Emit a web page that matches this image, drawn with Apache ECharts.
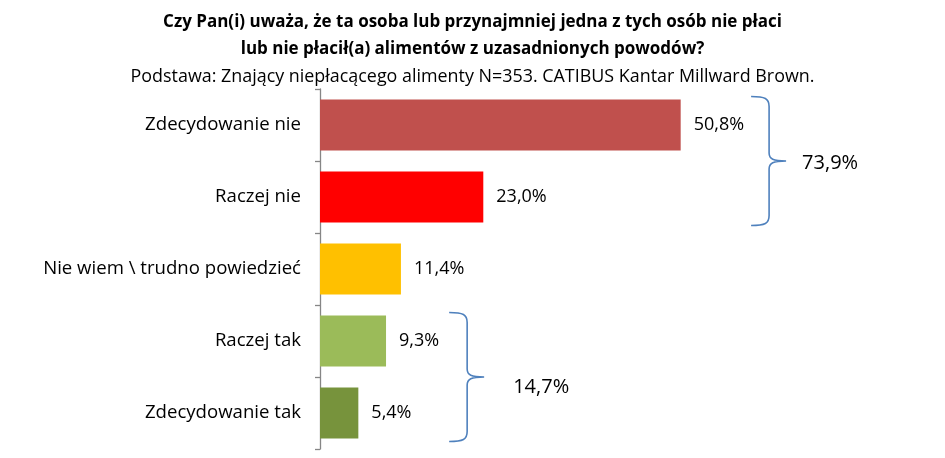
<!DOCTYPE html>
<html><head><meta charset="utf-8">
<script src="https://cdn.jsdelivr.net/npm/echarts@6/dist/echarts.min.js"></script>
<style>html,body{margin:0;padding:0;background:#fff}#c{width:945px;height:458px}</style>
</head><body><div id="c"></div>
<script>
// ---- data ----
const categories = ['Zdecydowanie nie', 'Raczej nie', 'Nie wiem \\ trudno powiedzieć', 'Raczej tak', 'Zdecydowanie tak'];
const values = [50.8, 23.0, 11.4, 9.3, 5.4];
const groupStart = [0, 3];
const groupEnd = [1, 4];
const groupLabels = ['73,9%', '14,7%'];
const titleLines = ['Czy Pan(i) uważa, że ta osoba lub przynajmniej jedna z tych osób nie płaci', 'lub nie płacił(a) alimentów z uzasadnionych powodów?'];
const subtitle = 'Podstawa: Znający niepłacącego alimenty N=353. CATIBUS Kantar Millward Brown.';

// ---- styles ----
const barColors = ['#C0504D', '#FF0000', '#FFC000', '#9BBB59', '#77933C'];
const FONT = '"Open Sans", "DejaVu Sans", sans-serif';
const LABEL_SIZE = 18;
const LABEL_DIST = 13;
const GAP = 0.29;
const braceShift = [0, 3];          // extra px offset of each brace
const braceLabelShift = [[0, 0], [13, 8]]; // extra px offset of each brace label

const fmt = v => v.toFixed(1).replace('.', ',') + '%';
const mctx = document.createElement('canvas').getContext('2d');
function measure(t, size) { mctx.font = size + 'px "Open Sans"'; return mctx.measureText(t).width; }

const chart = echarts.init(document.getElementById('c'));
chart.setOption({
  animation: false,
  backgroundColor: '#fff',
  title: {
    left: 'center', top: 4, itemGap: 0,
    text: titleLines.join('\n'),
    textStyle: { fontFamily: FONT, fontWeight: 'bold', fontSize: 17, lineHeight: 27, color: '#000' },
    subtext: subtitle,
    subtextStyle: { fontFamily: FONT, fontSize: 17.9, lineHeight: 27, color: '#000' }
  },
  grid: { left: 320, top: 89, bottom: 9, right: 57 },
  xAxis: { type: 'value', min: 0, max: 80, show: false },
  yAxis: {
    type: 'category', data: categories, inverse: true,
    axisLine: { show: true, lineStyle: { color: '#868686', width: 1.3 } },
    axisTick: { show: true, length: 5, lineStyle: { color: '#868686', width: 1.3 } },
    axisLabel: { fontFamily: FONT, fontSize: 18.6, color: '#000', margin: 19 }
  },
  series: [{
    type: 'bar',
    barCategoryGap: (GAP * 100) + '%',
    data: values.map((v, i) => ({ value: v, itemStyle: { color: barColors[i] } })),
    label: {
      show: true, position: 'right', distance: LABEL_DIST,
      fontFamily: FONT, fontSize: LABEL_SIZE, color: '#000',
      formatter: p => fmt(p.value)
    }
  }, {
    type: 'custom',
    clip: false,
    silent: true,
    encode: { y: 0 },
    data: groupStart.map((s, i) => [s, groupEnd[i]]),
    renderItem(params, api) {
      const gi = params.dataIndex;
      const s = api.value(0), e = api.value(1);
      const band = api.size([0, 1])[1];
      const half = band * (1 - GAP) / 2;
      const top = api.coord([0, s])[1] - half - 3;
      const bot = api.coord([0, e])[1] + half + 3;
      let maxEnd = 0;
      for (let i = s; i <= e; i++) {
        const end = api.coord([values[i], i])[0] + LABEL_DIST + measure(fmt(values[i]), LABEL_SIZE);
        if (end > maxEnd) maxEnd = end;
      }
      const x0 = maxEnd + 7 + braceShift[gi], x1 = x0 + 18, x2 = x0 + 35;
      const mid = (top + bot) / 2;
      const d = `M${x0} ${top} C${x1 - 4} ${top} ${x1} ${top + 2} ${x1} ${top + 10} ` +
        `L${x1} ${mid - 8} C${x1} ${mid - 2} ${x1 + 4} ${mid} ${x2} ${mid} ` +
        `C${x1 + 4} ${mid} ${x1} ${mid + 2} ${x1} ${mid + 8} ` +
        `L${x1} ${bot - 10} C${x1} ${bot - 2} ${x1 - 4} ${bot} ${x0} ${bot}`;
      return {
        type: 'group',
        children: [{
          type: 'path',
          shape: { pathData: d },
          style: { fill: 'none', stroke: '#4F81BD', lineWidth: 1.6 }
        }, {
          type: 'text',
          style: {
            x: x2 + 16 + braceLabelShift[gi][0], y: mid + 2 + braceLabelShift[gi][1],
            text: groupLabels[gi],
            fontFamily: FONT, fontSize: 20, fill: '#000',
            verticalAlign: 'middle', align: 'left'
          }
        }]
      };
    }
  }]
});
</script>
</body></html>
